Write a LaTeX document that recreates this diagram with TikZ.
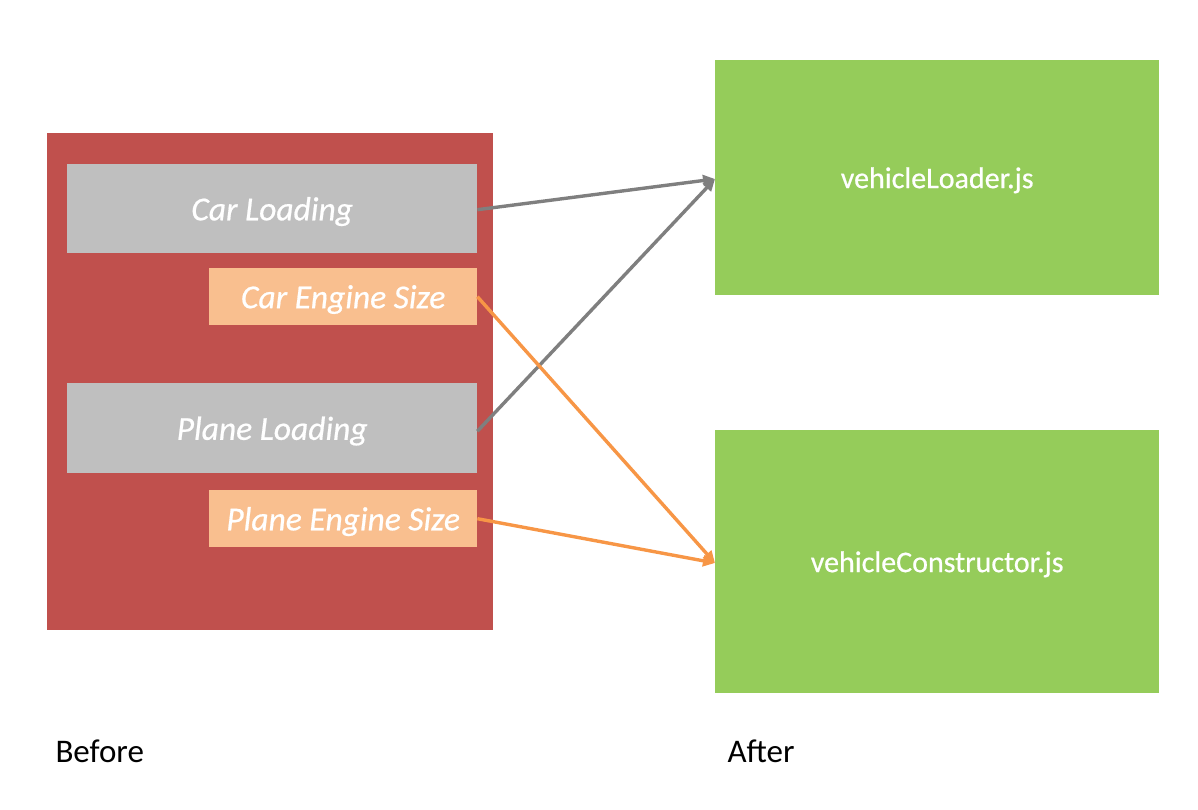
\documentclass[tikz,border=0pt]{standalone}
\usepackage{fontspec}
\setmainfont{Carlito}
\newfontfamily\heavyfont[FakeBold=0.6]{Carlito}
\usetikzlibrary{arrows.meta}
\definecolor{redbox}{HTML}{C0504D}
\definecolor{graybox}{HTML}{BFBFBF}
\definecolor{orangebox}{HTML}{F9BF8F}
\definecolor{greenbox}{HTML}{95CC5A}
\definecolor{grayarrow}{HTML}{7F7F7F}
\definecolor{orangearrow}{HTML}{F79646}
\tikzset{
  box/.style={draw=none, inner sep=0pt, anchor=north west, text=white, text depth=0pt},
  itemtext/.style={font=\heavyfont\itshape\fontsize{33.5}{38}\selectfont},
  filetext/.style={font=\heavyfont\fontsize{30}{36}\selectfont},
  conn/.style={line width=3.4pt, -{Triangle[length=12pt,width=11pt]}},
  caption/.style={font=\fontsize{33}{38}\selectfont, text=black}
}
\begin{document}
\begin{tikzpicture}[x=1pt,y=-1pt]
\useasboundingbox (0,0) rectangle (1198,810);
\node[box, fill=redbox, minimum width=446pt, minimum height=497pt] (before) at (47,133) {};
\node[box, fill=graybox, minimum width=410pt, minimum height=89pt, itemtext] (carload) at (67,164) {Car Loading};
\node[box, fill=orangebox, minimum width=268pt, minimum height=57pt, itemtext] (careng) at (209,268) {Car Engine Size};
\node[box, fill=graybox, minimum width=410pt, minimum height=90pt, itemtext] (planeload) at (67,383) {Plane Loading};
\node[box, fill=orangebox, minimum width=268pt, minimum height=57pt, itemtext] (planeeng) at (209,490) {Plane Engine Size};
\node[box, fill=greenbox, minimum width=444pt, minimum height=235pt, filetext] (loader) at (715,60) {vehicleLoader.js};
\node[box, fill=greenbox, minimum width=444pt, minimum height=263pt, filetext] (constructor) at (715,430) {vehicleConstructor.js};
\coordinate (loaderin) at (715,179);
\coordinate (constrin) at (715,563);
\draw[conn, draw=grayarrow, fill=grayarrow] ([yshift=-1pt]carload.east) -- (loaderin);
\draw[conn, draw=grayarrow, fill=grayarrow] ([yshift=-3pt]planeload.east) -- (loaderin);
\draw[conn, draw=orangearrow, fill=orangearrow] ([yshift=0pt]careng.east) -- (constrin);
\draw[conn, draw=orangearrow, fill=orangearrow] ([yshift=0pt]planeeng.east) -- (constrin);
\node[caption, anchor=west] (beforelbl) at (52,751) {Before};
\node[caption, anchor=west] (afterlbl) at (724,751) {After};
\end{tikzpicture}
\end{document}
